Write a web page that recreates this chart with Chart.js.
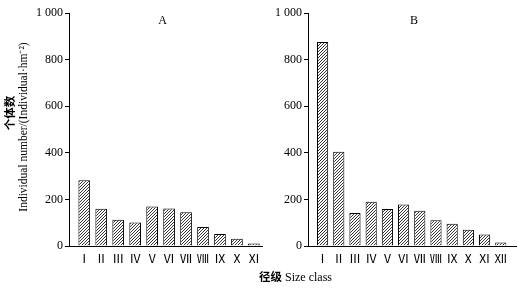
<!DOCTYPE html>
<html>
<head>
<meta charset="utf-8">
<script src="https://cdn.jsdelivr.net/npm/chart.js@4/dist/chart.umd.min.js"></script>
<style>
  html, body { margin: 0; padding: 0; background: #fff; }
  #wrap { position: relative; width: 518px; height: 288px; overflow: hidden; }
  .box { position: absolute; top: 0; height: 288px; }
  #boxA { left: 0; width: 265px; }
  #boxB { left: 265px; width: 253px; }
  #xtitle {
    position: absolute; left: 259px; top: 268px; white-space: nowrap;
    font: 12px "Liberation Serif", serif; color: #000;
  }
  #xtitle b { font-family: "Noto Sans CJK SC", sans-serif; font-weight: 600; font-size: 11.5px; }
</style>
</head>
<body>
<div id="wrap">
  <div class="box" id="boxA"><canvas id="chartA"></canvas></div>
  <div class="box" id="boxB"><canvas id="chartB"></canvas></div>
  <div id="xtitle"><b>径级</b> Size class</div>
</div>
<script>
// 径级 labels
const classesA = ['Ⅰ', 'Ⅱ', 'Ⅲ', 'Ⅳ', 'Ⅴ', 'Ⅵ', 'Ⅶ', 'Ⅷ', 'Ⅸ', 'Ⅹ', 'Ⅺ'];
const classesB = ['Ⅰ', 'Ⅱ', 'Ⅲ', 'Ⅳ', 'Ⅴ', 'Ⅵ', 'Ⅶ', 'Ⅷ', 'Ⅸ', 'Ⅹ', 'Ⅺ', 'Ⅻ'];

// 个体数 (Individual/hm2)
const valuesA = [282, 160, 113, 101, 170, 161, 145, 82, 52, 31, 11];
const valuesB = [876, 405, 142, 190, 159, 178, 151, 111, 95, 70, 49, 15];

const yTicks = [0, 200, 400, 600, 800, 1000];

const serif = '"Liberation Serif", "Times New Roman", serif';
const romanFont = '"Noto Sans CJK SC", sans-serif';

// hachure pattern for the bars
function makeHatch() {
    const c = document.createElement('canvas');
    c.width = 3; c.height = 3;
    const g = c.getContext('2d');
    g.fillStyle = '#fff';
    g.fillRect(0, 0, 3, 3);
    g.strokeStyle = '#000';
    g.lineWidth = 0.8;
    g.beginPath();
    g.moveTo(-1, 4); g.lineTo(4, -1);
    g.moveTo(-1, 1); g.lineTo(1, -1);
    g.moveTo(2, 4); g.lineTo(4, 2);
    g.stroke();
    return g.createPattern(c, 'repeat');
}

// panel letter (A / B)
const panelLetter = {
    id: 'panelLetter',
    afterDraw(chart, args, opts) {
        const { ctx, chartArea } = chart;
        ctx.save();
        ctx.font = '12px ' + serif;
        ctx.fillStyle = '#000';
        ctx.textAlign = 'center';
        ctx.textBaseline = 'middle';
        ctx.fillText(opts.text, (chartArea.left + chartArea.right) / 2 + opts.dx, chartArea.top + 8);
        ctx.restore();
    }
};

// y axis title on the left panel only
const yTitle = {
    id: 'yTitle',
    afterDraw(chart, args, opts) {
        if (!opts.show) return;
        const ctx = chart.ctx;
        ctx.save();
        ctx.fillStyle = '#000';
        ctx.textAlign = 'center';
        ctx.textBaseline = 'middle';
        ctx.translate(10, 113);
        ctx.rotate(-Math.PI / 2);
        ctx.font = '600 11.5px "Noto Sans CJK SC", sans-serif';
        ctx.fillText('个体数', 0, 0);
        ctx.restore();
        ctx.save();
        ctx.fillStyle = '#000';
        ctx.textAlign = 'center';
        ctx.textBaseline = 'middle';
        ctx.translate(24, 127);
        ctx.rotate(-Math.PI / 2);
        ctx.font = '11.5px ' + serif;
        ctx.fillText('Individual number/(Individual·hm⁻²)', 0, 0);
        ctx.restore();
    }
};

function buildChart(canvasId, classes, values, letter, yWidth, xMax, showTitle, dx) {
    const ctx = document.getElementById(canvasId).getContext('2d');
    return new Chart(ctx, {
        type: 'bar',
        data: {
            datasets: [{
                data: classes.map((c, i) => ({ x: i + 1, y: values[i] })),
                backgroundColor: makeHatch(),
                borderColor: '#000',
                borderWidth: 1,
                barPercentage: 0.69,
                categoryPercentage: 1
            }]
        },
        options: {
            responsive: true,
            maintainAspectRatio: false,
            animation: false,
            layout: { padding: { top: 13, right: 2, left: 0, bottom: 0 } },
            plugins: {
                legend: { display: false },
                tooltip: { enabled: false },
                panelLetter: { text: letter, dx: dx },
                yTitle: { show: showTitle }
            },
            scales: {
                x: {
                    type: 'linear',
                    offset: false,
                    min: 0.1,
                    max: xMax,
                    afterBuildTicks: (scale) => {
                        scale.ticks = classes.map((c, i) => ({ value: i + 1 }));
                    },
                    afterFit: (scale) => { scale.height = 42; },
                    grid: { display: false, drawTicks: false },
                    border: { display: true, color: '#000', width: 1 },
                    ticks: {
                        autoSkip: false,
                        maxRotation: 0,
                        padding: 5,
                        color: '#000',
                        font: { family: romanFont, size: 12, weight: 400 },
                        callback: (v) => classes[v - 1] || ''
                    }
                },
                y: {
                    min: 0,
                    max: 1000,
                    afterBuildTicks: (scale) => {
                        scale.ticks = yTicks.map(v => ({ value: v }));
                    },
                    afterFit: (scale) => { scale.width = yWidth; },
                    grid: { drawOnChartArea: false, drawTicks: true, tickLength: 4, color: '#000' },
                    border: { display: true, color: '#000', width: 1 },
                    ticks: {
                        padding: 2,
                        color: '#000',
                        font: { family: serif, size: 12 },
                        callback: (v) => v >= 1000 ? String(v).replace(/(\d)(\d{3})$/, '$1 $2') : v
                    }
                }
            }
        },
        plugins: [panelLetter, yTitle]
    });
}

buildChart('chartA', classesA, valuesA, 'A', 69, 11.5, true, -3);
buildChart('chartB', classesB, valuesB, 'B', 43, 12.94, false, 2);
</script>
</body>
</html>
